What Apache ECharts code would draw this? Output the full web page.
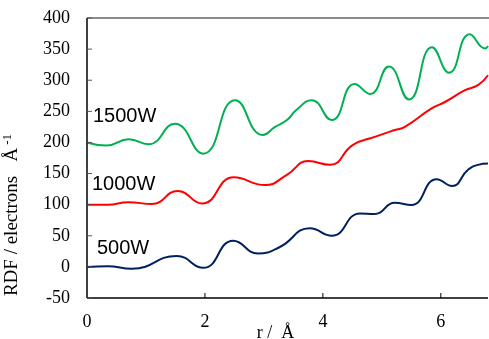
<!DOCTYPE html>
<html>
<head>
<meta charset="utf-8">
<script src="https://cdn.jsdelivr.net/npm/echarts@6/dist/echarts.min.js"></script>
<style>
html,body{margin:0;padding:0;background:#fff;}
#main{width:489px;height:339px;}
</style>
</head>
<body>
<div id="main"></div>
<script>
var chart=echarts.init(document.getElementById("main"));

// r (Å), RDF value pairs
var w1500=[[0,200],[0.33,195],[0.71,205],[1.04,197],[1.49,230],[1.97,182],[2.51,268],[2.98,212],[3.19,225],[3.39,236],[3.55,252],[3.81,268],[4.15,236],[4.54,294],[4.80,278],[5.12,322],[5.46,269],[5.85,353],[6.14,312],[6.49,374],[6.75,351],[6.8,355]];
var w1000=[[0,100],[0.35,100],[0.70,104],[1.1,101],[1.54,122],[1.95,102],[2.49,144],[3.02,131.5],[3.39,148],[3.75,170],[4.12,164],[4.51,196],[4.88,209],[5.22,220],[5.39,225],[5.85,255],[6.07,265],[6.41,284],[6.63,292],[6.8,308]];
var w500=[[0,0],[0.35,1],[0.76,-3],[1.52,17.6],[1.97,-1.5],[2.48,42],[2.9,21.5],[3.27,32],[3.78,62],[4.15,50],[4.63,86],[4.88,85],[5.22,103],[5.5,99.5],[5.93,141],[6.19,130],[6.46,156],[6.63,164],[6.8,166]];
var seriesNames=['1500W','1000W','500W'];
var xTicks=[2,4,6];
var yTicks=[-50,0,50,100,150,200,250,300,350,400];

var serif='"Liberation Serif","DejaVu Serif",serif';
var sans='"Liberation Sans",Arial,sans-serif';

var option={
	animation:false,
	grid:{
		left:87,
		right:1,
		top:18,
		bottom:41,
		outerBoundsMode:'none',
		containLabel:false
	},
	xAxis:{
		type:'value',
		min:0,
		max:6.8,
		interval:2,
		name:'r /  Å',
		nameLocation:'middle',
		nameGap:26,
		nameMoveOverlap:false,
		nameTextStyle:{fontFamily:serif,fontSize:18,color:'#000',padding:[0,24,0,0]},
		axisLine:{show:false},
		axisTick:{show:false},
		axisLabel:{fontFamily:serif,fontSize:18,color:'#000',margin:15,showMaxLabel:false},
		splitLine:{show:false}
	},
	yAxis:{
		type:'value',
		min:-50,
		max:400,
		interval:50,
		name:'RDF / electrons   Å{sup|-1}',
		nameLocation:'middle',
		nameGap:64,
		nameRotate:90,
		nameMoveOverlap:false,
		nameTextStyle:{
			fontFamily:serif,fontSize:19,color:'#000',padding:[0,114,0,0],
			rich:{sup:{fontFamily:serif,fontSize:13,color:'#000',verticalAlign:'top',padding:[0,0,9,3]}}
		},
		axisLine:{show:false},
		axisTick:{show:false},
		axisLabel:{fontFamily:serif,fontSize:18,color:'#000',margin:17},
		splitLine:{show:false}
	},
	series:[
		{name:seriesNames[0],type:'line',data:w1500,smooth:0.5,showSymbol:false,lineStyle:{color:'#00B050',width:2}},
		{name:seriesNames[1],type:'line',data:w1000,smooth:0.5,showSymbol:false,lineStyle:{color:'#FF0000',width:2}},
		{name:seriesNames[2],type:'line',data:w500,smooth:0.5,showSymbol:false,lineStyle:{color:'#002060',width:2}}
	]
};

chart.setOption(option);

// frame and inside ticks, placed through the chart's own scales
function px(x,y){return chart.convertToPixel({gridIndex:0},[x,y]);}
var lo=px(0,-50), hi=px(6.8,400);
var g=[];
g.push({type:'line',z:10,shape:{x1:lo[0],y1:hi[1],x2:489,y2:hi[1]},style:{stroke:'#8c8c8c',lineWidth:2}});
g.push({type:'line',z:10,shape:{x1:lo[0],y1:hi[1],x2:lo[0],y2:lo[1]},style:{stroke:'#000',lineWidth:1.5}});
g.push({type:'line',z:10,shape:{x1:lo[0],y1:lo[1],x2:hi[0],y2:lo[1]},style:{stroke:'#000',lineWidth:1.5}});
yTicks.forEach(function(v){
	var p=px(0,v);
	g.push({type:'line',z:10,shape:{x1:p[0],y1:p[1],x2:p[0]+5,y2:p[1]},style:{stroke:'#555',lineWidth:1}});
});
xTicks.forEach(function(v){
	var p=px(v,-50);
	g.push({type:'line',z:10,shape:{x1:p[0],y1:p[1],x2:p[0],y2:p[1]-5},style:{stroke:'#000',lineWidth:1}});
});
g.push({type:'text',left:93,top:106,style:{text:seriesNames[0],fontFamily:sans,fontSize:20,fill:'#000'}});
g.push({type:'text',left:92,top:174,style:{text:seriesNames[1],fontFamily:sans,fontSize:20,fill:'#000'}});
g.push({type:'text',left:97,top:238,style:{text:seriesNames[2],fontFamily:sans,fontSize:20,fill:'#000'}});
chart.setOption({graphic:g});
</script>
</body>
</html>
